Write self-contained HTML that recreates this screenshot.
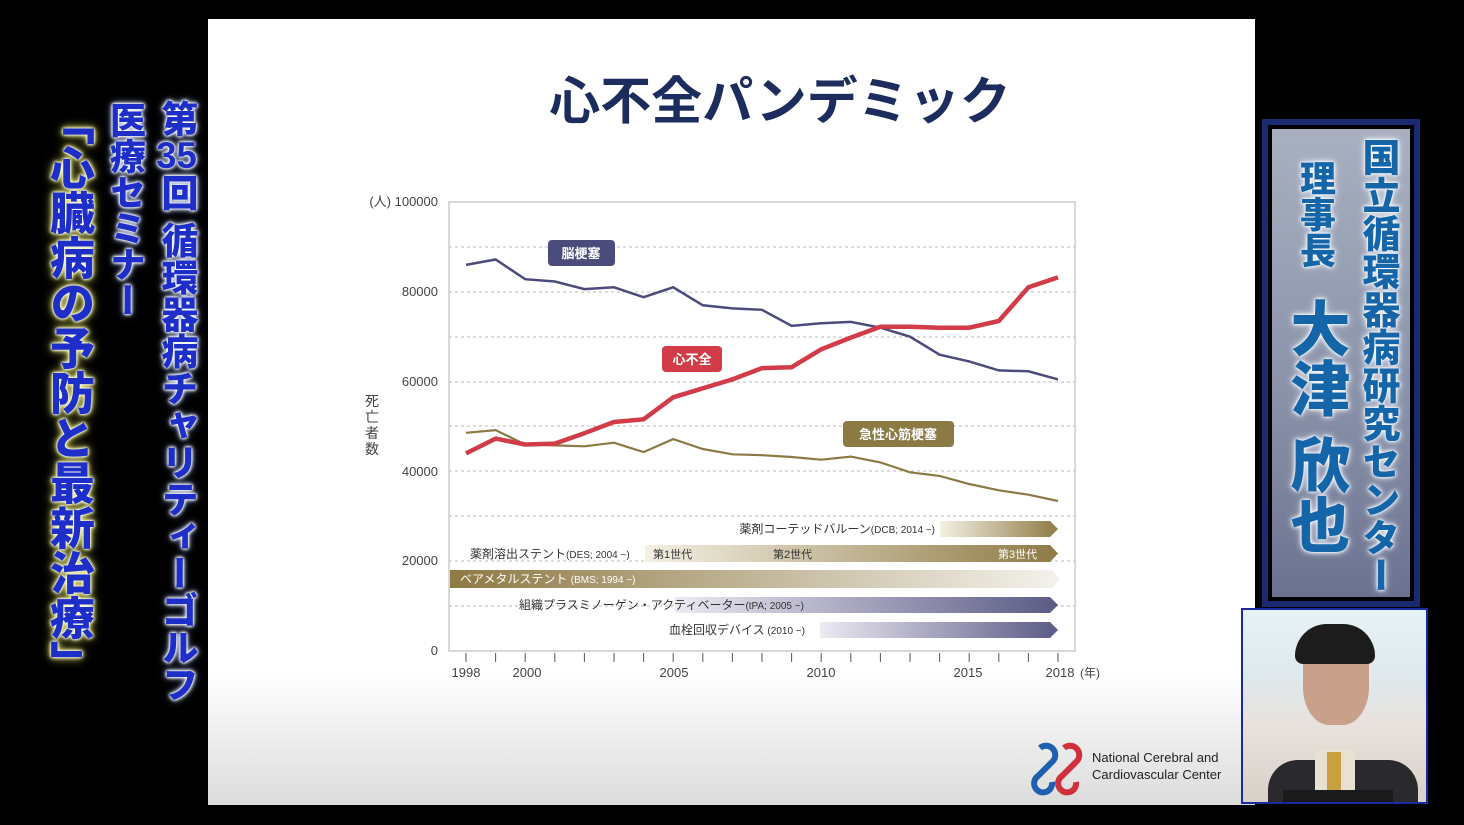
<!DOCTYPE html>
<html><head><meta charset="utf-8"><style>
html,body{margin:0;padding:0;background:#000;width:1464px;height:825px;overflow:hidden;font-family:"Liberation Sans","Noto Sans CJK JP",sans-serif}
.v{position:absolute;writing-mode:vertical-rl;font-weight:900;color:#1d2fc8;line-height:1;white-space:nowrap;
text-shadow:0 0 2px #fff,0 0 3px #fff,0 0 5px #fff,0 0 8px #9ab4ff;}
.y{text-shadow:0 0 2px #fff,0 0 3px #fff,0 0 6px #ffff80,0 0 10px #e0e060;}
.r{position:absolute;writing-mode:vertical-rl;font-weight:900;color:#1466a8;line-height:1;white-space:nowrap;
text-shadow:0 0 2px #fff,0 0 4px #fff,0 0 8px #e8f0ff;}
.tcy{text-combine-upright:all;}
</style></head><body>
<div style="position:absolute;left:208px;top:19px;width:1047px;height:786px;background:linear-gradient(#fff 0%,#fff 83%,#dcdcdc 100%)"></div>
<div class="v" style="left:158px;top:100px;font-size:37px">第<span class="tcy">35</span>回 循環器病チャリティーゴルフ</div>
<div class="v" style="left:107px;top:102px;font-size:36px">医療セミナー</div>
<div class="v y" style="left:46px;top:100px;font-size:45px">「心臓病の予防と最新治療」</div>

<div style="position:absolute;left:1262px;top:119px;width:158px;height:488px;background:#1a2a70;"></div>
<div style="position:absolute;left:1268px;top:125px;width:146px;height:476px;background:#000;"></div>
<div style="position:absolute;left:1272px;top:129px;width:138px;height:468px;background:linear-gradient(#a8b0c0,#8890a8 60%,#6a7290);"></div>
<div class="r" style="left:1358px;top:138px;font-size:38px">国立循環器病研究センター</div>
<div class="r" style="left:1297px;top:160px;font-size:36px">理事長</div>
<div class="r" style="left:1285px;top:298px;font-size:60px">大津 欣也</div>

<div style="position:absolute;left:1241px;top:608px;width:187px;height:196px;border:2px solid #1a2aa0;box-sizing:border-box;background:linear-gradient(#e6f2f6 0%,#dfe9ee 35%,#e9e2dc 60%,#d8d0c8 100%);overflow:hidden">
<div style="position:absolute;left:25px;top:150px;width:150px;height:60px;background:#2a2a2e;border-radius:30px 30px 0 0"></div>
<div style="position:absolute;left:60px;top:20px;width:66px;height:95px;background:#c9a08a;border-radius:40%"></div>
<div style="position:absolute;left:52px;top:14px;width:80px;height:40px;background:#1c1c1c;border-radius:40px 40px 10px 10px"></div>
<div style="position:absolute;left:72px;top:140px;width:40px;height:50px;background:#e8e0d0"></div>
<div style="position:absolute;left:84px;top:142px;width:14px;height:48px;background:#c8a040"></div>
<div style="position:absolute;left:40px;top:180px;width:110px;height:20px;background:#1a1a1a"></div>
</div>

<svg width="1464" height="825" viewBox="0 0 1464 825" style="position:absolute;left:0;top:0">
<defs>
<linearGradient id="g1" x1="0" x2="1"><stop offset="0" stop-color="#f4f0e4"/><stop offset="1" stop-color="#8f7a45"/></linearGradient>
<linearGradient id="g2" x1="1" x2="0"><stop offset="0" stop-color="#f4f2ec"/><stop offset="1" stop-color="#8f7a45"/></linearGradient>
<linearGradient id="g3" x1="0" x2="1"><stop offset="0" stop-color="#eceaf2"/><stop offset="1" stop-color="#5a5a86"/></linearGradient>
</defs>
<text x="780" y="119" text-anchor="middle" font-size="51" font-weight="bold" fill="#1c2c5c" font-family="Noto Sans CJK JP,sans-serif">心不全パンデミック</text>
<rect x="449" y="202" width="626" height="449" fill="none" stroke="#ccc" stroke-width="1.5"/>
<g stroke="#bbb" stroke-dasharray="3,3" stroke-width="1">
<line x1="449" x2="1075" y1="606" y2="606"/><line x1="449" x2="1075" y1="561" y2="561"/><line x1="449" x2="1075" y1="516" y2="516"/><line x1="449" x2="1075" y1="471" y2="471"/><line x1="449" x2="1075" y1="426" y2="426"/><line x1="449" x2="1075" y1="382" y2="382"/><line x1="449" x2="1075" y1="337" y2="337"/><line x1="449" x2="1075" y1="292" y2="292"/><line x1="449" x2="1075" y1="247" y2="247"/>
</g>
<g stroke="#555" stroke-width="1">
<line x1="466" x2="466" y1="653" y2="662"/><line x1="495.6" x2="495.6" y1="653" y2="662"/><line x1="525.2" x2="525.2" y1="653" y2="662"/><line x1="554.8" x2="554.8" y1="653" y2="662"/><line x1="584.4" x2="584.4" y1="653" y2="662"/><line x1="614" x2="614" y1="653" y2="662"/><line x1="643.6" x2="643.6" y1="653" y2="662"/><line x1="673.2" x2="673.2" y1="653" y2="662"/><line x1="702.8" x2="702.8" y1="653" y2="662"/><line x1="732.4" x2="732.4" y1="653" y2="662"/><line x1="762" x2="762" y1="653" y2="662"/><line x1="791.6" x2="791.6" y1="653" y2="662"/><line x1="821.2" x2="821.2" y1="653" y2="662"/><line x1="850.8" x2="850.8" y1="653" y2="662"/><line x1="880.4" x2="880.4" y1="653" y2="662"/><line x1="910" x2="910" y1="653" y2="662"/><line x1="939.6" x2="939.6" y1="653" y2="662"/><line x1="969.2" x2="969.2" y1="653" y2="662"/><line x1="998.8" x2="998.8" y1="653" y2="662"/><line x1="1028.4" x2="1028.4" y1="653" y2="662"/><line x1="1058" x2="1058" y1="653" y2="662"/>
</g>
<g font-size="13" fill="#444" text-anchor="middle">
<text x="466" y="677">1998</text><text x="527" y="677">2000</text><text x="674" y="677">2005</text><text x="821" y="677">2010</text><text x="968" y="677">2015</text><text x="1060" y="677">2018</text><text x="1090" y="677" font-size="12">(年)</text>
</g>
<g font-size="13" fill="#444" text-anchor="end">
<text x="438" y="206">(人) 100000</text><text x="438" y="296">80000</text><text x="438" y="386">60000</text><text x="438" y="476">40000</text><text x="438" y="565">20000</text><text x="438" y="655">0</text>
</g>
<g font-size="14" fill="#444" text-anchor="middle"><text x="372" y="406">死</text><text x="372" y="422">亡</text><text x="372" y="438">者</text><text x="372" y="454">数</text></g>

<polyline fill="none" stroke="#4c4c7c" stroke-width="2.5" points="466,264.9 495.6,259.5 525.2,279.2 554.8,281.5 584.4,289.1 614,287.3 643.6,297.2 673.2,287.3 702.8,305.3 732.4,308.4 762,309.8 791.6,325.9 821.2,323.2 850.8,321.9 880.4,327.7 910,336.7 939.6,354.7 969.2,361.4 998.8,370.4 1028.4,371.3 1058,379.4"/>
<polyline fill="none" stroke="#8c7a45" stroke-width="2.2" points="466,432.8 495.6,430.1 525.2,444.5 554.8,445.4 584.4,446.3 614,442.7 643.6,452.1 673.2,439.1 702.8,449 732.4,454.3 762,455.2 791.6,457 821.2,459.7 850.8,456.6 880.4,462.4 910,472.3 939.6,475.9 969.2,484 998.8,490.3 1028.4,494.7 1058,501"/>
<polyline fill="none" stroke="#d23c48" stroke-width="4.5" stroke-linejoin="round" points="466,453.4 495.6,438.6 525.2,444.5 554.8,443.6 584.4,433.2 614,422 643.6,419.3 673.2,397.3 702.8,388.3 732.4,379.4 762,368.1 791.6,367.2 821.2,349.3 850.8,337.6 880.4,326.8 910,326.8 939.6,327.7 969.2,327.7 998.8,321 1028.4,287.3 1058,277.4"/>

<rect x="548" y="240" width="67" height="26" rx="4" fill="#4c4c7c"/><text x="581" y="258" font-size="13" fill="#fff" text-anchor="middle" font-weight="bold">脳梗塞</text>
<rect x="662" y="346" width="60" height="26" rx="4" fill="#d23c48"/><text x="692" y="364" font-size="13" fill="#fff" text-anchor="middle" font-weight="bold">心不全</text>
<rect x="843" y="421" width="111" height="26" rx="4" fill="#8c7a45"/><text x="898" y="439" font-size="13" fill="#fff" text-anchor="middle" font-weight="bold">急性心筋梗塞</text>

<polygon points="940,521 1050,521 1058,529 1050,537 940,537" fill="url(#g1)"/>
<text x="935" y="533" font-size="12" fill="#333" text-anchor="end">薬剤コーテッドバルーン<tspan font-size="10">(DCB; 2014 ~)</tspan></text>
<polygon points="645,545 1050,545 1058,553.5 1050,562 645,562" fill="url(#g1)"/>
<text x="470" y="558" font-size="12" fill="#333">薬剤溶出ステント<tspan font-size="10">(DES; 2004 ~)</tspan></text>
<text x="653" y="558" font-size="11" fill="#333">第1世代</text><text x="773" y="558" font-size="11" fill="#333">第2世代</text><text x="998" y="558" font-size="11" fill="#fff">第3世代</text>
<polygon points="450,570 1052,570 1060,579 1052,588 450,588" fill="url(#g2)"/>
<text x="460" y="583" font-size="12" fill="#fff">ベアメタルステント <tspan font-size="10">(BMS; 1994 ~)</tspan></text>
<polygon points="675,597 1050,597 1058,605 1050,613 675,613" fill="url(#g3)"/>
<text x="519" y="609" font-size="12" fill="#333">組織プラスミノーゲン・アクティベーター<tspan font-size="10">(tPA; 2005 ~)</tspan></text>
<polygon points="820,622 1050,622 1058,630 1050,638 820,638" fill="url(#g3)"/>
<text x="669" y="634" font-size="12" fill="#333">血栓回収デバイス<tspan font-size="10"> (2010 ~)</tspan></text>

<g fill="none" stroke-width="6">
<path d="M1040,748 a9,9 0 1 1 12,14 l-14,14 a9,9 0 1 0 14,6" stroke="#1f5fb0"/>
<path d="M1064,748 a9,9 0 1 1 12,14 l-14,14 a9,9 0 1 0 14,6" stroke="#d0303c"/>
</g>
<text x="1092" y="762" font-size="13" fill="#222">National Cerebral and</text>
<text x="1092" y="779" font-size="13" fill="#222">Cardiovascular Center</text>
</svg>
<div style="position:absolute;left:1241px;top:608px;width:187px;height:196px;border:2px solid #1a2aa0;box-sizing:border-box;"></div>
</body></html>
